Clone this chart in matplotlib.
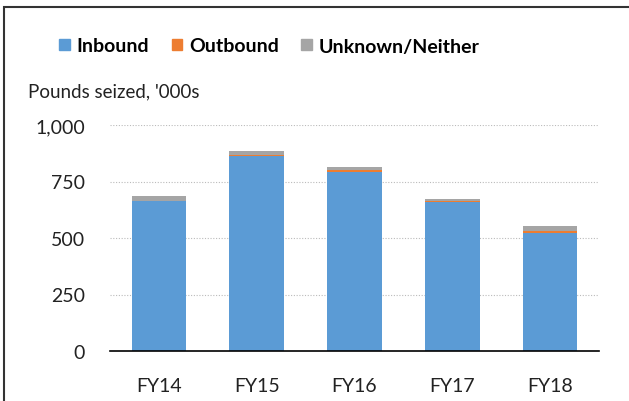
import matplotlib
matplotlib.use("Agg")
import matplotlib.pyplot as plt
from matplotlib.patches import Rectangle, Patch
import numpy as np

categories = ["FY14", "FY15", "FY16", "FY17", "FY18"]
inbound = [663, 865, 794, 661, 520]
outbound = [2, 2, 9, 2, 12]
unknown = [22, 20, 10, 8, 22]
series_names = ["Inbound", "Outbound", "Unknown/Neither"]
colors = ["#5B9BD5", "#ED7D31", "#A5A5A5"]
yticks = [0, 250, 500, 750, 1000]

plt.rcParams['font.family'] = ['Lato', 'DejaVu Sans']

fig = plt.figure(figsize=(6.29, 4.02), dpi=100)
ax = fig.add_axes([110/629, 50/402, 489/629, 226/402])

x = np.arange(len(categories))
w = 0.56
ax.bar(x, inbound, w, color=colors[0], label=series_names[0])
bottom2 = np.array(inbound)
ax.bar(x, outbound, w, bottom=bottom2, color=colors[1], label=series_names[1])
bottom3 = bottom2 + np.array(outbound)
ax.bar(x, unknown, w, bottom=bottom3, color=colors[2], label=series_names[2])

ax.set_xlim(-0.5, len(categories) - 0.5)
ax.set_ylim(0, 1000)
ax.set_yticks(yticks)
ax.set_yticklabels([f"{v:,}" for v in yticks], fontsize=14, color="#222222")
ax.set_xticks(x)
ax.set_xticklabels(categories, fontsize=14, color="#222222")
ax.tick_params(axis='both', length=0)
ax.tick_params(axis='y', pad=18)
ax.tick_params(axis='x', pad=19)
for s in ["top", "right", "left"]:
    ax.spines[s].set_visible(False)
ax.spines["bottom"].set_color("black")
ax.spines["bottom"].set_linewidth(1.2)
ax.yaxis.grid(True, linestyle=(0, (1, 1.5)), color="#BBBBBB", linewidth=0.8)
ax.set_axisbelow(True)

handles = [Patch(color=c) for c in colors]
fig.legend(handles, series_names, loc="center", bbox_to_anchor=(269.5/629, 1 - 47/402),
           ncol=3, frameon=False, handlelength=0.55, handleheight=0.55,
           handletextpad=0.35, columnspacing=1.15,
           prop={'weight': 'bold', 'size': 14})

fig.text(28/629, 1 - 97/402, "Pounds seized, '000s", fontsize=13.5, color="#222222",
         ha="left", va="baseline")

border = Rectangle((4/629, -0.1), 1.2, 1 - 8/402 + 0.1, transform=fig.transFigure,
                   fill=False, edgecolor="#333333", linewidth=1.5)
fig.patches.append(border)

fig.savefig("out.png", dpi=100)
